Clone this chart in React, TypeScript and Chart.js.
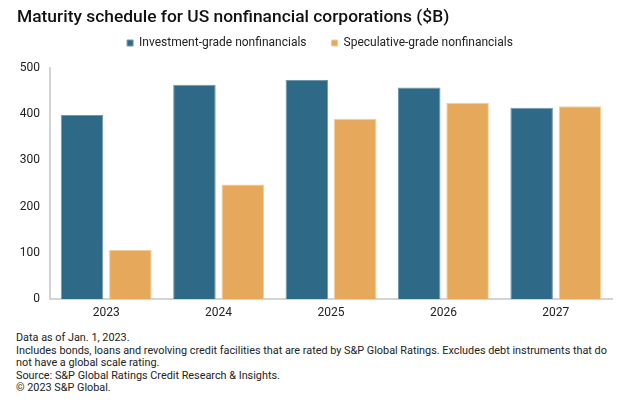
import React, { useEffect, useRef } from "react";
import { Chart, registerables } from "chart.js";

Chart.register(...registerables);

const categories = ["2023", "2024", "2025", "2026", "2027"];
const investmentGrade = [398, 464, 474, 458, 414];
const speculativeGrade = [106, 248, 390, 425, 417];
const seriesNames = ["Investment-grade nonfinancials", "Speculative-grade nonfinancials"];
const yTicks = [0, 100, 200, 300, 400, 500];
const titleText = "Maturity schedule for US nonfinancial corporations ($B)";
const footnotes = [
  "Data as of Jan. 1, 2023.",
  "Includes bonds, loans and revolving credit facilities that are rated by S&P Global Ratings. Excludes debt instruments that do",
  "not have a global scale rating.",
  "Source: S&P Global Ratings Credit Research & Insights.",
  "\u00a9 2023 S&P Global.",
];

const BLUE = "#2e6987";
const ORANGE = "#e6a85a";
const FONT = "Roboto";

const legendFitPlugin = {
  id: "legendFit",
  beforeLayout(chart: any) {
    const lg = chart.legend;
    if (lg && !lg._patched) {
      const orig = lg.fit.bind(lg);
      lg.fit = function () {
        orig();
        this.height = 56;
        this.minSize && (this.minSize.height = 56);
      };
      lg._patched = true;
    }
  },
};

export default function App() {
  const ref = useRef<HTMLCanvasElement | null>(null);
  useEffect(() => {
    if (!ref.current) return;
    const chart = new Chart(ref.current, {
      type: "bar",
      data: {
        labels: categories,
        datasets: [
          {
            label: seriesNames[0],
            data: investmentGrade,
            backgroundColor: BLUE,
            borderColor: "#6f98ad",
            borderWidth: 1,
          },
          {
            label: seriesNames[1],
            data: speculativeGrade,
            backgroundColor: ORANGE,
            borderColor: "#f2cd9c",
            borderWidth: 1,
          },
        ],
      },
      plugins: [legendFitPlugin],
      options: {
        responsive: false,
        animation: false,
        devicePixelRatio: 1,
        layout: { padding: { top: 12, left: 0, right: 0, bottom: 0 } },
        datasets: { bar: { categoryPercentage: 0.86, barPercentage: 0.88 } },
        plugins: {
          tooltip: { enabled: false },
          legend: {
            display: true,
            position: "top",
            align: "center",
            labels: {
              boxWidth: 6,
              boxHeight: 6,
              padding: 25,
              color: "#222",
              font: { family: FONT, size: 12 },
            },
          },
        },
        scales: {
          x: {
            grid: { display: false, drawTicks: false },
            border: { display: true, color: "#d4d4d4", width: 2 },
            ticks: { color: "#222", font: { family: FONT, size: 12 }, padding: 7 },
            afterFit: (s: any) => {
              s.height = 31;
            },
          },
          y: {
            min: 0,
            max: 500,
            afterBuildTicks: (s: any) => {
              s.ticks = yTicks.map((v) => ({ value: v }));
            },
            grid: { display: false, drawTicks: false },
            border: { display: true, color: "#d4d4d4", width: 2 },
            ticks: { color: "#222", font: { family: FONT, size: 12 }, padding: 10 },
            afterFit: (s: any) => {
              s.width = 50;
            },
          },
          yRight: {
            position: "right",
            display: true,
            grid: { display: false, drawTicks: false },
            border: { display: false },
            ticks: { display: false },
            afterFit: (s: any) => {
              s.width = 28;
            },
          },
        },
      },
    } as any);
    return () => chart.destroy();
  }, []);

  return (
    <div
      style={{
        position: "absolute",
        left: 0,
        top: 0,
        width: 640,
        height: 406,
        background: "#fff",
        overflow: "hidden",
      }}
    >
      <canvas
        ref={ref}
        width={640}
        height={330}
        style={{ position: "absolute", left: 0, top: 0, width: 640, height: 330 }}
      />
      <div
        style={{
          position: "absolute",
          left: 17,
          top: 6,
          fontFamily: FONT,
          fontSize: 17.4,
          fontWeight: 500,
          lineHeight: "20px",
          color: "#111",
          whiteSpace: "nowrap",
        }}
      >
        {titleText}
      </div>
      <div
        style={{
          position: "absolute",
          left: 16,
          top: 332,
          fontFamily: FONT,
          fontSize: 10.85,
          lineHeight: "12.5px",
          color: "#222",
          whiteSpace: "nowrap",
        }}
      >
        {footnotes.map((t, i) => (
          <div key={i}>{t}</div>
        ))}
      </div>
    </div>
  );
}
